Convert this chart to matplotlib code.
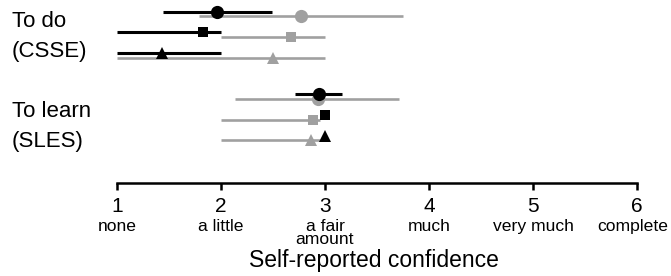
import matplotlib
matplotlib.use("Agg")
import matplotlib.pyplot as plt

plt.rcParams['font.family'] = ['Liberation Sans', 'DejaVu Sans']

# ---- data ----
group_labels = ["To do\n(CSSE)", "To learn\n(SLES)"]
row_index = [0, 1, 2, 4, 5, 6]
row_markers = ["o", "s", "^", "o", "s", "^"]

black_mean = [1.96, 1.83, 1.43, 2.94, 3.00, 3.00]
black_lo = [1.44, 1.00, 1.00, 2.71, 3.00, 3.00]
black_hi = [2.49, 2.00, 2.00, 3.16, 3.00, 3.00]

gray_mean = [2.77, 2.67, 2.50, 2.93, 2.88, 2.87]
gray_lo = [1.79, 2.00, 1.00, 2.13, 2.00, 2.00]
gray_hi = [3.75, 3.00, 3.00, 3.71, 2.95, 2.95]

tick_values = [1, 2, 3, 4, 5, 6]
tick_words = ["none", "a little", "a fair\namount", "much", "very much", "complete"]
xlabel = "Self-reported confidence"

# ---- figure ----
W, H = 671, 276
fig = plt.figure(figsize=(W / 100, H / 100), dpi=100)
axis_px = 182.7
ax = fig.add_axes([117 / W, (H - axis_px) / H, 520 / W, axis_px / H])
ax.set_xlim(1, 6)
row0_px, row_step = 13.9, 20.7
ax.set_ylim((axis_px - row0_px) / row_step, -row0_px / row_step)

GRAY = "#a0a0a0"
msize = {"o": 9.5, "s": 7.5, "^": 8.5}
off = 0.11

for r, m, mu, lo, hi in zip(row_index, row_markers, gray_mean, gray_lo, gray_hi):
    y = r + off
    ax.plot([lo, hi], [y, y], color=GRAY, lw=1.9, solid_capstyle="butt",
            clip_on=False, zorder=2)
    ax.plot([mu], [y], marker=m, ms=msize[m], color=GRAY, mew=0,
            clip_on=False, zorder=3)

for r, m, mu, lo, hi in zip(row_index, row_markers, black_mean, black_lo, black_hi):
    y = r - off
    if hi > lo:
        ax.plot([lo, hi], [y, y], color="black", lw=2.2, solid_capstyle="butt",
                clip_on=False, zorder=4)
    ax.plot([mu], [y], marker=m, ms=msize[m], color="black", mew=0,
            clip_on=False, zorder=5)

for s in ["left", "right", "top"]:
    ax.spines[s].set_visible(False)
ax.spines["bottom"].set_linewidth(1.8)
ax.spines["bottom"].set_bounds(1, 6)
ax.set_yticks([])
ax.set_xticks(tick_values)
ax.set_xticklabels([str(v) for v in tick_values], fontsize=15)
ax.tick_params(axis="x", direction="out", length=5.3, width=1.8, pad=5.0)
ax.patch.set_visible(False)

PT = 72 / 100  # points per pixel
word_baseline_px = 231 - axis_px
word_line_px = 12.5
n_words = len(tick_words)
for k, (v, w) in enumerate(zip(tick_values, tick_words)):
    dx = -4 if k == n_words - 1 else 0  # keep last label inside the figure
    for i, line in enumerate(w.split("\n")):
        ax.annotate(line, xy=(v, 0), xycoords=("data", "axes fraction"),
                    xytext=(dx * PT, -(word_baseline_px + i * word_line_px) * PT),
                    textcoords="offset points",
                    ha="center", va="baseline", fontsize=12.6)

fig.text(373.5 / W, (H - 266.7) / H, xlabel, ha="center", va="baseline", fontsize=16.5)

group_line_px = 29.4
for lab, base_px in zip(group_labels, [27.3, 117.3]):
    for i, line in enumerate(lab.split("\n")):
        fig.text(12 / W, (H - base_px - i * group_line_px) / H, line,
                 ha="left", va="baseline", fontsize=16)

fig.savefig("out.png", dpi=100)
